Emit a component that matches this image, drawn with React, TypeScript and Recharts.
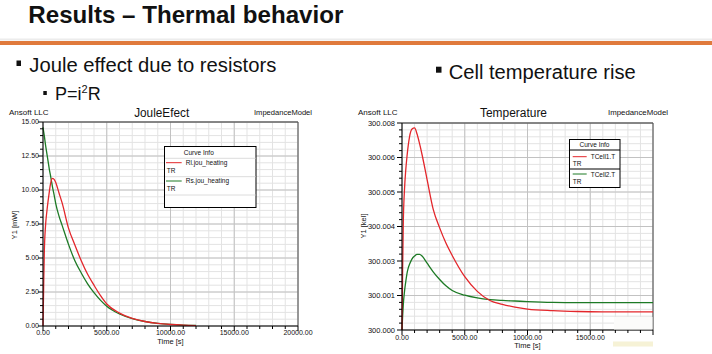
import { LineChart, Line, XAxis, YAxis, CartesianGrid, ReferenceLine } from "recharts"

const FONT = "'Liberation Sans', Arial, sans-serif"
const RED = "#e3262b"
const GREEN = "#1d7a25"

// JouleEfect chart (time in s, power in mW)
const jouleTime = [0, 50, 100, 200, 300, 400, 500, 600, 750, 900, 1000, 1250, 1500, 2000, 2500, 3000, 3500, 4000, 4500, 5000, 6000, 7000, 8000, 9000, 10000, 11000, 12000]
const rlHeating = [0, 2.8, 5.3, 7.4, 8.4, 9.2, 9.9, 10.5, 10.85, 10.75, 10.55, 9.8, 9.05, 7.2, 5.95, 4.8, 3.8, 3.0, 2.25, 1.62, 0.95, 0.56, 0.33, 0.19, 0.11, 0.06, 0.03]
const rsHeating = [14.6, 14.3, 14.0, 13.3, 12.7, 12.1, 11.5, 11.0, 10.2, 9.5, 9.0, 8.1, 7.4, 6.0, 4.8, 3.9, 3.1, 2.45, 1.9, 1.45, 0.88, 0.54, 0.33, 0.2, 0.12, 0.07, 0.04]

// Temperature chart (time in s, temperature in kel)
const tempTime = [0, 50, 100, 200, 300, 400, 500, 600, 800, 1000, 1200, 1400, 1600, 2000, 2500, 3000, 3500, 4000, 5000, 6000, 7000, 8000, 9000, 10000, 12000, 14000, 16000, 18000, 20000]
const tCell1 = [300.0, 300.0022, 300.0038, 300.0051, 300.0058, 300.0063, 300.0067, 300.007, 300.00728, 300.00732, 300.0071, 300.00675, 300.00635, 300.00545, 300.00435, 300.0037, 300.00315, 300.0027, 300.00193, 300.0014, 300.00107, 300.00093, 300.00083, 300.00076, 300.0007, 300.00067, 300.00066, 300.00066, 300.00066]
const tCell2 = [300.0, 300.0005, 300.0009, 300.0014, 300.00175, 300.00205, 300.00225, 300.00238, 300.00258, 300.00268, 300.00274, 300.00274, 300.00268, 300.00242, 300.0021, 300.00183, 300.0016, 300.00143, 300.00126, 300.00116, 300.0011, 300.00107, 300.00105, 300.00103, 300.001, 300.00099, 300.00099, 300.00099, 300.00099]

// axis ticks
const timeMajor = [0, 5000, 10000, 15000, 20000]
const jouleTimeLabels = ["0.00", "5000.00", "10000.00", "15000.00", "20000.00"]
const tempTimeLabels = ["0.00", "5000.00", "10000.00", "15000.00", ""] // last one hidden under the logo
const powerMajor = [0, 2.5, 5, 7.5, 10, 12.5, 15]
const powerLabels = ["0.00", "2.50", "5.00", "7.50", "10.00", "12.50", "15.00"]
const tempMajor = [300, 300.00125, 300.0025, 300.00375, 300.005, 300.00625, 300.0075]
const tempLabels = ["300.000", "300.001", "300.003", "300.004", "300.005", "300.006", "300.008"]

// 5 subdivisions between major ticks
const subdivide = (majors: number[]) => {
  const out: number[] = []
  for (let i = 0; i < majors.length - 1; i++) {
    const step = (majors[i + 1] - majors[i]) / 5
    for (let k = 0; k < 5; k++) out.push(majors[i] + k * step)
  }
  out.push(majors[majors.length - 1])
  return out
}

const findMajor = (majors: number[], v: number) => majors.findIndex((m) => Math.abs(m - v) < 1e-9)

const xTick = (majors: number[], labels: string[], dy: number) => (p: any) => {
  const k = findMajor(majors, p.payload.value)
  return (
    <g>
      <line x1={p.x} x2={p.x} y1={p.y} y2={p.y + (k >= 0 ? 5 : 3)} stroke="#000" />
      {k >= 0 && labels[k] ? (
        <text x={p.x} y={p.y + dy} textAnchor="middle" fontSize={7} fontFamily={FONT} fill="#111">
          {labels[k]}
        </text>
      ) : null}
    </g>
  )
}

const yTick = (majors: number[], labels: string[], gap: number, size: number) => (p: any) => {
  const k = findMajor(majors, p.payload.value)
  return (
    <g>
      <line x1={p.x} x2={p.x - (k >= 0 ? 5 : 3)} y1={p.y} y2={p.y} stroke="#000" />
      {k >= 0 ? (
        <text x={p.x - gap} y={p.y} dy="0.35em" textAnchor="end" fontSize={size} fontFamily={FONT} fill="#111">
          {labels[k]}
        </text>
      ) : null}
    </g>
  )
}

function JouleChart() {
  const data = jouleTime.map((t, i) => ({ t, rl: rlHeating[i], rs: rsHeating[i] }))
  return (
    <LineChart width={330} height={250} data={data} margin={{ top: 22, right: 32, bottom: 0, left: 0 }}>
      <CartesianGrid stroke="#e3e3e3" />
      <CartesianGrid stroke="#c2c2c2" horizontalValues={powerMajor} verticalValues={timeMajor} />
      <XAxis
        dataKey="t"
        type="number"
        domain={[0, 20000]}
        ticks={subdivide(timeMajor)}
        interval={0}
        height={24}
        tickSize={0}
        tickMargin={0}
        tickLine={false}
        axisLine={{ stroke: "#000" }}
        tick={xTick(timeMajor, jouleTimeLabels, 9.3)}
      />
      <YAxis
        type="number"
        domain={[0, 15]}
        allowDataOverflow
        ticks={subdivide(powerMajor)}
        interval={0}
        width={43}
        tickSize={0}
        tickMargin={0}
        tickLine={false}
        axisLine={{ stroke: "#000" }}
        tick={yTick(powerMajor, powerLabels, 4, 7)}
      />
      <ReferenceLine y={15} stroke="#333" />
      <ReferenceLine x={20000} stroke="#555" />
      <Line type="monotone" dataKey="rs" stroke={GREEN} strokeWidth={1.3} dot={false} isAnimationActive={false} />
      <Line type="monotone" dataKey="rl" stroke={RED} strokeWidth={1.3} dot={false} isAnimationActive={false} />
    </LineChart>
  )
}

function TempChart() {
  const data = tempTime.map((t, i) => ({ t, c1: tCell1[i], c2: tCell2[i] }))
  return (
    <LineChart width={320} height={250} data={data} margin={{ top: 23, right: 17, bottom: 0, left: 0 }}>
      <CartesianGrid stroke="#e3e3e3" />
      <CartesianGrid stroke="#c2c2c2" horizontalValues={tempMajor} verticalValues={timeMajor} />
      <XAxis
        dataKey="t"
        type="number"
        domain={[0, 20000]}
        ticks={subdivide(timeMajor)}
        interval={0}
        height={20}
        tickSize={0}
        tickMargin={0}
        tickLine={false}
        axisLine={{ stroke: "#000" }}
        tick={xTick(timeMajor, tempTimeLabels, 9.5)}
      />
      <YAxis
        type="number"
        domain={[300, 300.0075]}
        allowDataOverflow
        ticks={subdivide(tempMajor)}
        interval={0}
        width={52}
        tickSize={0}
        tickMargin={0}
        tickLine={false}
        axisLine={{ stroke: "#000" }}
        tick={yTick(tempMajor, tempLabels, 7, 7.5)}
      />
      <ReferenceLine y={300.0075} stroke="#333" />
      <ReferenceLine x={20000} stroke="#555" />
      <Line type="monotone" dataKey="c2" stroke={GREEN} strokeWidth={1.3} dot={false} isAnimationActive={false} />
      <Line type="monotone" dataKey="c1" stroke={RED} strokeWidth={1.3} dot={false} isAnimationActive={false} />
    </LineChart>
  )
}

export default function App() {
  return (
    <div style={{ position: "absolute", left: 0, top: 0, width: 712, height: 354, background: "#fff", overflow: "hidden", fontFamily: FONT }}>
      <div style={{ position: "absolute", left: 0, top: 100 }}>
        <JouleChart />
      </div>
      <div style={{ position: "absolute", left: 350, top: 100 }}>
        <TempChart />
      </div>
      <svg width={712} height={354} style={{ position: "absolute", left: 0, top: 0, pointerEvents: "none" }} fontFamily={FONT}>
        {/* slide header */}
        <text x={28.3} y={22.7} fontSize={24} fontWeight="bold" fill="#111" textLength={315} lengthAdjust="spacingAndGlyphs">
          Results – Thermal behavior
        </text>
        <rect x={0} y={38.5} width={712} height={2} fill="#ececec" />
        <rect x={0} y={41} width={712} height={4} fill="#e07a3c" />

        <rect x={16.5} y={60.5} width={4.5} height={5.5} fill="#111" />
        <text x={29.3} y={72.3} fontSize={20} fill="#111" textLength={247} lengthAdjust="spacingAndGlyphs">
          Joule effect due to resistors
        </text>
        <rect x={43.3} y={91} width={3.5} height={4} fill="#111" />
        <text x={55} y={100} fontSize={18} fill="#111">
          P=i<tspan fontSize={11} dy={-7}>2</tspan>
          <tspan dy={7}>R</tspan>
        </text>
        <rect x={436} y={66.7} width={5.5} height={6} fill="#111" />
        <text x={448.7} y={79} fontSize={20} fill="#111" textLength={187} lengthAdjust="spacingAndGlyphs">
          Cell temperature rise
        </text>

        {/* left chart texts */}
        <text x={9} y={115} fontSize={8} fill="#111">Ansoft LLC</text>
        <text x={161.7} y={117.3} fontSize={12} fill="#111" textAnchor="middle" textLength={55} lengthAdjust="spacingAndGlyphs">JouleEfect</text>
        <text x={254} y={115} fontSize={7.5} fill="#111" textLength={58} lengthAdjust="spacingAndGlyphs">ImpedanceModel</text>
        <text transform="translate(16.5,225) rotate(-90)" textAnchor="middle" fontSize={7.5} fill="#111">Y1 [mW]</text>
        <text x={170.5} y={343.5} textAnchor="middle" fontSize={7.5} fill="#111">Time [s]</text>

        {/* left legend */}
        <rect x={164.5} y={146.5} width={91.5} height={61} fill="#fff" stroke="#000" />
        <text x={198.8} y={155} textAnchor="middle" fontSize={6.5} fill="#111">Curve Info</text>
        <line x1={165} x2={255.5} y1={158.3} y2={158.3} stroke="#dcdcdc" />
        <line x1={166} x2={181.7} y1={162.7} y2={162.7} stroke={RED} />
        <text x={185.7} y={165} fontSize={6.5} fill="#111">Rl.jou_heating</text>
        <text x={166.7} y={172.7} fontSize={6.5} fill="#111">TR</text>
        <line x1={165} x2={255.5} y1={176.7} y2={176.7} stroke="#dcdcdc" />
        <line x1={166} x2={181.7} y1={181} y2={181} stroke={GREEN} />
        <text x={185.7} y={183.3} fontSize={6.5} fill="#111">Rs.jou_heating</text>
        <text x={166.7} y={190.7} fontSize={6.5} fill="#111">TR</text>
        <line x1={165} x2={255.5} y1={195} y2={195} stroke="#dcdcdc" />

        {/* right chart texts */}
        <text x={358} y={115} fontSize={8} fill="#111">Ansoft LLC</text>
        <text x={513.5} y={116.7} fontSize={12} fill="#111" textAnchor="middle" textLength={67} lengthAdjust="spacingAndGlyphs">Temperature</text>
        <text x={608} y={115} fontSize={7.5} fill="#111" textLength={60} lengthAdjust="spacingAndGlyphs">ImpedanceModel</text>
        <text transform="translate(366,226) rotate(-90)" textAnchor="middle" fontSize={7.5} fill="#111">Y1 [kel]</text>
        <text x={527.5} y={348} textAnchor="middle" fontSize={7.5} fill="#111">Time [s]</text>

        {/* right legend */}
        <rect x={569.5} y={139.5} width={50.5} height={48} fill="#fff" stroke="#000" />
        <text x={594.5} y={147} textAnchor="middle" fontSize={6.5} fill="#111">Curve Info</text>
        <line x1={569.5} x2={620} y1={150} y2={150} stroke="#000" />
        <line x1={572.7} x2={586.7} y1={156.7} y2={156.7} stroke={RED} />
        <text x={590.7} y={159} fontSize={6.5} fill="#111">TCell1.T</text>
        <text x={572.7} y={165.7} fontSize={6.5} fill="#111">TR</text>
        <line x1={569.5} x2={620} y1={169} y2={169} stroke="#000" />
        <line x1={572.7} x2={586.7} y1={174} y2={174} stroke={GREEN} />
        <text x={590.7} y={176.7} fontSize={6.5} fill="#111">TCell2.T</text>
        <text x={572.7} y={184} fontSize={6.5} fill="#111">TR</text>

        {/* logo patch in the corner */}
        <rect x={614} y={317} width={38.5} height={12.5} fill="#fbfbfa" />
        <rect x={613} y={341.5} width={40} height={5} fill="#f6f2d6" />
      </svg>
    </div>
  )
}
